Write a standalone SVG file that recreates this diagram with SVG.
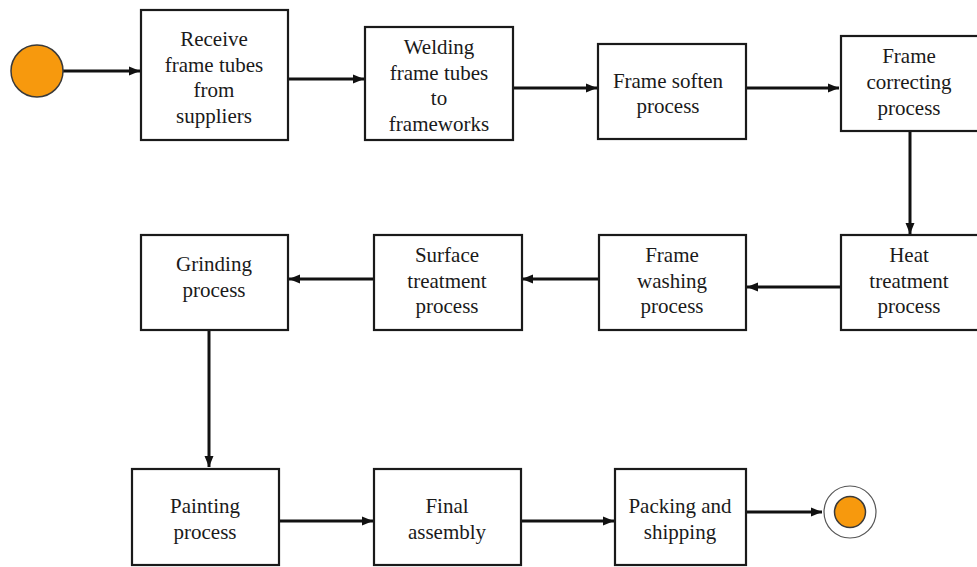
<svg xmlns="http://www.w3.org/2000/svg" width="977" height="567" viewBox="0 0 977 567">
  <style>
    .box { fill: #ffffff; stroke: #1a1a1a; stroke-width: 2.2; }
    .lbl { font-family: "Liberation Serif", "Times New Roman", serif; font-size: 21px; fill: #1a1a1a; text-anchor: middle; }
    .flow { fill: none; stroke: #111111; stroke-width: 3; marker-end: url(#head); }
    .dot { fill: #F7990D; stroke: #3a3a3a; stroke-width: 1.5; }
  </style>
  <defs>
    <marker id="head" markerUnits="userSpaceOnUse" markerWidth="12" markerHeight="12" viewBox="0 0 12 12" refX="11" refY="6" orient="auto">
      <path d="M0,1.5 L11,6 L0,10.5 Z" fill="#111111"/>
    </marker>
  </defs>
  <rect width="977" height="567" fill="#ffffff"/>

  <!-- connectors -->
  <g id="connectors">
    <line class="flow" x1="63" y1="71" x2="140" y2="71"/>
    <line class="flow" x1="288" y1="79" x2="364" y2="79"/>
    <line class="flow" x1="513" y1="88" x2="597" y2="88"/>
    <line class="flow" x1="746" y1="88" x2="839" y2="88"/>
    <line class="flow" x1="910" y1="131" x2="910" y2="234"/>
    <line class="flow" x1="841" y1="287" x2="747" y2="287"/>
    <line class="flow" x1="599" y1="279" x2="522" y2="279"/>
    <line class="flow" x1="374" y1="279" x2="289" y2="279"/>
    <line class="flow" x1="209" y1="331" x2="209" y2="467"/>
    <line class="flow" x1="279" y1="521" x2="373" y2="521"/>
    <line class="flow" x1="521" y1="521" x2="614" y2="521"/>
    <line class="flow" x1="746" y1="512" x2="822" y2="512"/>
  </g>

  <!-- start -->
  <g id="start">
    <circle class="dot" cx="37" cy="71" r="26"/>
  </g>

  <g id="receive">
    <rect class="box" x="141" y="10" width="147" height="130"/>
    <text class="lbl" x="214" y="46">Receive</text>
    <text class="lbl" x="214" y="72">frame tubes</text>
    <text class="lbl" x="214" y="97">from</text>
    <text class="lbl" x="214" y="123">suppliers</text>
  </g>

  <g id="welding">
    <rect class="box" x="365" y="27" width="148" height="113"/>
    <text class="lbl" x="439" y="54">Welding</text>
    <text class="lbl" x="439" y="80">frame tubes</text>
    <text class="lbl" x="439" y="105">to</text>
    <text class="lbl" x="439" y="131">frameworks</text>
  </g>

  <g id="soften">
    <rect class="box" x="598" y="44" width="148" height="95"/>
    <text class="lbl" x="668" y="88">Frame soften</text>
    <text class="lbl" x="668" y="113">process</text>
  </g>

  <g id="correcting">
    <rect class="box" x="841" y="36" width="150" height="95"/>
    <text class="lbl" x="909" y="63">Frame</text>
    <text class="lbl" x="909" y="89">correcting</text>
    <text class="lbl" x="909" y="115">process</text>
  </g>

  <g id="heat">
    <rect class="box" x="841" y="235" width="150" height="95"/>
    <text class="lbl" x="909" y="262">Heat</text>
    <text class="lbl" x="909" y="288">treatment</text>
    <text class="lbl" x="909" y="313">process</text>
  </g>

  <g id="washing">
    <rect class="box" x="599" y="235" width="147" height="95"/>
    <text class="lbl" x="672" y="262">Frame</text>
    <text class="lbl" x="672" y="288">washing</text>
    <text class="lbl" x="672" y="313">process</text>
  </g>

  <g id="surface">
    <rect class="box" x="374" y="235" width="148" height="95"/>
    <text class="lbl" x="447" y="262">Surface</text>
    <text class="lbl" x="447" y="288">treatment</text>
    <text class="lbl" x="447" y="313">process</text>
  </g>

  <g id="grinding">
    <rect class="box" x="141" y="235" width="147" height="95"/>
    <text class="lbl" x="214" y="271">Grinding</text>
    <text class="lbl" x="214" y="297">process</text>
  </g>

  <g id="painting">
    <rect class="box" x="132" y="469" width="147" height="96"/>
    <text class="lbl" x="205" y="513">Painting</text>
    <text class="lbl" x="205" y="539">process</text>
  </g>

  <g id="assembly">
    <rect class="box" x="374" y="469" width="147" height="96"/>
    <text class="lbl" x="447" y="513">Final</text>
    <text class="lbl" x="447" y="539">assembly</text>
  </g>

  <g id="packing">
    <rect class="box" x="615" y="469" width="131" height="96"/>
    <text class="lbl" x="680" y="513">Packing and</text>
    <text class="lbl" x="680" y="539">shipping</text>
  </g>

  <!-- end -->
  <g id="end">
    <circle cx="850" cy="512" r="26" fill="#ffffff" stroke="#555555" stroke-width="1.2"/>
    <circle class="dot" cx="850" cy="512" r="15.5"/>
  </g>
</svg>
